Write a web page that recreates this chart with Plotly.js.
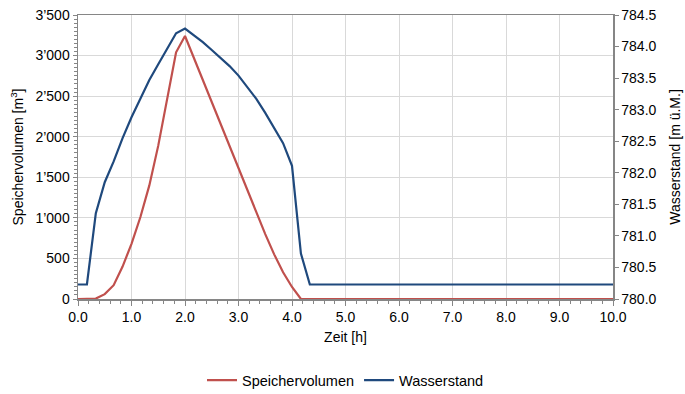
<!DOCTYPE html>
<html>
<head>
<meta charset="utf-8">
<script src="https://cdn.plot.ly/plotly-3.0.1.min.js"></script>
<style>html,body{margin:0;padding:0;background:#fff;}#chart{width:685px;height:394px;}</style>
</head>
<body>
<div id="chart"></div>
<script>
// time in minutes (10-minute steps), converted to hours below
const minutes = [0,10,20,30,40,50,60,70,80,90,100,110,120,130,140,150,160,170,180,190,200,210,220,230,240,250,260,600];
const speichervolumen = [0,0,5,60,170,400,680,1010,1400,1890,2450,3040,3241,2967,2693,2420,2146,1872,1600,1330,1060,800,550,330,148,0,0,0];
const wasserstand = [780.23,780.23,781.36,781.85,782.18,782.55,782.88,783.18,783.47,783.72,783.97,784.21,784.285,784.18,784.07,783.945,783.82,783.69,783.54,783.36,783.17,782.95,782.72,782.47,782.11,780.72,780.23,780.23];
const seriesNames = ["Speichervolumen","Wasserstand"];
const xTitle = "Zeit [h]";
const y1Title = "Speichervolumen [m<sup>3</sup>]";
const y2Title = "Wasserstand [m ü.M.]";

const hours = minutes.map(m => m/60);
const fam = "Liberation Sans, Arial, sans-serif";
const fs = 14;

const traces = [
  {x:hours, y:speichervolumen, name:seriesNames[0], type:"scatter", mode:"lines",
   line:{color:"#C0504D", width:2.2}, yaxis:"y"},
  {x:hours, y:wasserstand, name:seriesNames[1], type:"scatter", mode:"lines",
   line:{color:"#1F497D", width:2.2}, yaxis:"y2"}
];

const layout = {
  width:685, height:394,
  margin:{l:78, r:72, t:15, b:95, autoexpand:false},
  paper_bgcolor:"#fff", plot_bgcolor:"#fff",
  font:{family:fam, size:fs, color:"#000"},
  separators:".\u2019",
  showlegend:true,
  legend:{orientation:"h", x:0.5, xanchor:"center", xref:"paper",
          yref:"container", y:0.035, yanchor:"middle",
          font:{family:fam, size:14.5}, itemwidth:30, tracegroupgap:0},
  xaxis:{range:[0,10], dtick:1, tickformat:".1f", showgrid:true, gridcolor:"#d9d9d9", gridwidth:1,
         showline:true, linecolor:"#868686", linewidth:1.5, mirror:true,
         ticks:"outside", ticklen:5, tickcolor:"#868686", automargin:false,
         minor:{dtick:0.2, ticks:"outside", ticklen:3, tickcolor:"#868686", showgrid:false},
         zeroline:false, tickfont:{family:fam, size:fs},
         title:{text:xTitle, font:{family:fam, size:fs}, standoff:8}},
  yaxis:{range:[0,3500], dtick:500, tickformat:",.0f", showgrid:true, gridcolor:"#d9d9d9", gridwidth:1,
         showline:true, linecolor:"#868686", linewidth:1.5, automargin:false,
         ticks:"outside", ticklen:4, tickcolor:"#868686",
         minor:{dtick:50, ticks:"outside", ticklen:3, tickcolor:"#868686", showgrid:false},
         zeroline:false, tickfont:{family:fam, size:fs},
         title:{text:y1Title, font:{family:fam, size:fs}, standoff:8}},
  yaxis2:{range:[780,784.5], dtick:0.5, tickformat:".1f", overlaying:"y", side:"right",
          showgrid:false, showline:true, linecolor:"#868686", linewidth:1.5, automargin:false,
          ticks:"outside", ticklen:4, tickcolor:"#868686", zeroline:false,
          tickfont:{family:fam, size:fs},
          title:{text:y2Title, font:{family:fam, size:fs}, standoff:14}}
};

Plotly.newPlot("chart", traces, layout, {displayModeBar:false, staticPlot:true});
</script>
</body>
</html>
